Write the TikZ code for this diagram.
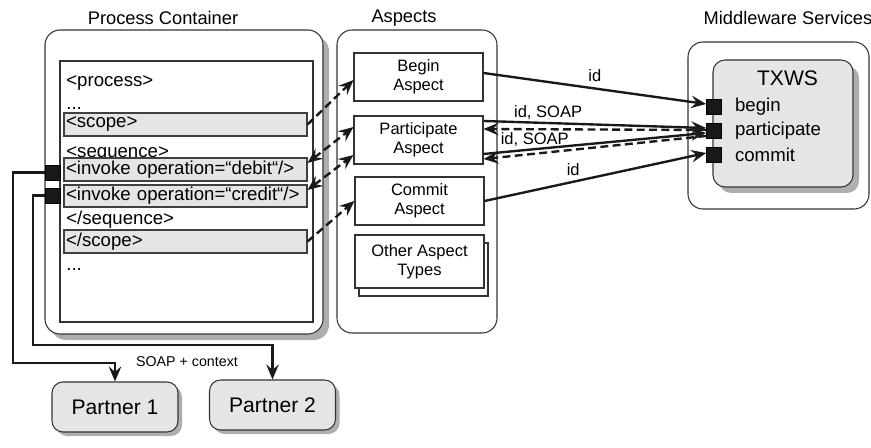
\documentclass[tikz,border=0pt]{standalone}
\usepackage{fontspec}
\setmainfont{Liberation Sans}
\usetikzlibrary{arrows.meta,positioning,shadows}

\begin{document}
\begin{tikzpicture}[
	font=\fontsize{10.6}{12}\selectfont,
	container/.style={draw=black!80, fill=white, rounded corners=0.3cm, line width=0.6pt},
	shadowed/.style={drop shadow={shadow xshift=0.12cm, shadow yshift=-0.12cm, fill=black!45, opacity=0.7}},
	codeline/.style={anchor=west, inner sep=0pt, text height=1.6ex, text depth=0.4ex},
	band/.style={draw=black!75, fill=black!10, line width=0.6pt, minimum width=4.86cm, minimum height=0.46cm, text width=4.78cm, inner xsep=0.04cm, inner ysep=0pt, align=left},
	aspect/.style={draw=black!80, fill=white, line width=0.6pt, minimum width=2.58cm, minimum height=0.96cm, align=center, font=\fontsize{9.4}{11}\selectfont},
	port/.style={draw=black, fill=black!90, minimum size=0.3cm, inner sep=0pt},
	partner/.style={draw=black!80, fill=black!10, rounded corners=0.22cm, line width=0.6pt, minimum width=2.52cm, minimum height=1.0cm, font=\fontsize{12}{14}\selectfont},
	title/.style={font=\fontsize{10.4}{12}\selectfont},
	edgelabel/.style={font=\fontsize{9.4}{11}\selectfont, inner sep=1pt},
	call/.style={-{Stealth[length=3mm, width=2.5mm, inset=1.1mm]}, line width=1.35pt, draw=black!90},
	weave/.style={call, dash pattern=on 4.5pt off 2.5pt},
	weaveboth/.style={weave, arrows={Stealth[length=3mm, width=2.5mm, inset=1.1mm]-Stealth[length=3mm, width=2.5mm, inset=1.1mm]}}
]
\useasboundingbox (0,0) rectangle (17.42,-8.96);

% Titles of the three columns.
\node[title] (tproc) at (3.26,-0.36) {Process Container};
\node[title] (tasp) at (8.08,-0.36) {Aspects};
\node[title] (tmw) at (15.76,-0.36) {Middleware Services};

% Process container with the BPEL listing.
\node[container, shadowed, minimum width=5.56cm, minimum height=6.08cm] (procbox) at (3.68,-3.64) {};
\node[draw=black!80, line width=0.6pt, fill=white, minimum width=5.06cm, minimum height=5.22cm] (codearea) at (3.73,-3.83) {};

\node[codeline] (lprocess) at (1.32,-1.62) {<process>};
\node[codeline] (ldotsa) at (1.32,-2.08) {...};
\node[band] (scopeopen) at (3.71,-2.49) {<scope>};
\node[codeline] (lseq) at (1.32,-3.04) {<sequence>};
\node[band] (debit) at (3.71,-3.39) {<invoke operation=“debit“/>};
\node[band, minimum height=0.44cm] (credit) at (3.71,-3.92) {<invoke operation=“credit“/>};
\node[codeline] (lseqend) at (1.32,-4.38) {</sequence>};
\node[band] (scopeclose) at (3.71,-4.83) {</scope>};
\node[codeline] (ldotsb) at (1.32,-5.3) {...};

\node[port] (pdebit) at (1.06,-3.45) {};
\node[port] (pcredit) at (1.06,-3.91) {};

% Partners reached from the invoke activities.
\node[partner, drop shadow={shadow xshift=0.08cm, shadow yshift=-0.08cm, fill=black!45, opacity=0.7}] (partnerA) at (2.3,-8.14) {Partner 1};
\node[partner, drop shadow={shadow xshift=0.08cm, shadow yshift=-0.08cm, fill=black!45, opacity=0.7}] (partnerB) at (5.45,-8.1) {Partner 2};

\coordinate (bendA) at (0.26,-7.26);
\coordinate (bendB) at (0.66,-6.9);
\draw[call] (pdebit.west) -| (bendA) -| (partnerA.north);
\draw[call] (pcredit.west) -| (bendB) -| (partnerB.north);
\node[font=\fontsize{8.1}{10}\selectfont] (soapctx) at (3.74,-7.24) {SOAP + context};

% Aspects column.
\node[container, minimum width=3.2cm, minimum height=6.06cm] (aspectbox) at (8.34,-3.63) {};
\node[aspect] (beginasp) at (8.37,-1.54) {Begin\\Aspect};
\node[aspect] (partasp) at (8.37,-2.8) {Participate\\Aspect};
\node[aspect] (commitasp) at (8.39,-4.02) {Commit\\Aspect};
\node[aspect, minimum height=1.06cm, copy shadow={shadow xshift=0.08cm, shadow yshift=-0.16cm, draw=black!80, fill=white, line width=0.6pt}] (otherasp) at (8.39,-5.23) {Other Aspect\\Types};

% Middleware services with the TXWS ports.
\node[container, minimum width=3.62cm, minimum height=3.34cm] (mwbox) at (15.57,-2.51) {};
\node[draw=black!80, fill=black!10, rounded corners=0.24cm, line width=0.6pt, shadowed, minimum width=2.8cm, minimum height=2.54cm] (txws) at (15.66,-2.47) {};
\node[font=\fontsize{12}{14}\selectfont] (txwslabel) at (15.75,-1.56) {TXWS};

\node[port] (pbegin) at (14.28,-2.14) {};
\node[port] (ppart) at (14.28,-2.62) {};
\node[port] (pcommit) at (14.28,-3.1) {};
\node[right=0.14cm of pbegin] (lbegin) {begin};
\node[right=0.14cm of ppart] (lpart) {participate};
\node[right=0.14cm of pcommit] (lcommit) {commit};

% Calls between aspects and TXWS.
\draw[call] ([yshift=0.08cm]beginasp.east) -- node[edgelabel, above=2pt] {id} ([yshift=0.06cm]pbegin.west);
\draw[call] ([yshift=0.38cm]partasp.east) -- node[edgelabel, above, pos=0.29] {id, SOAP} ([yshift=0.06cm]ppart.west);
\draw[weave] ([yshift=0.02cm]ppart.west) -- ([yshift=0.22cm]partasp.east);
\draw[call] ([yshift=-0.28cm]partasp.east) -- node[edgelabel, above, pos=0.23] {id, SOAP} ([yshift=-0.04cm]ppart.west);
\draw[weave] ([yshift=-0.1cm]ppart.west) -- ([yshift=-0.38cm]partasp.east);
\draw[call] (commitasp.east) -- node[edgelabel, above=2pt, pos=0.4] {id} ([yshift=0.04cm]pcommit.west);

% Weaving of aspects into the listing.
\draw[weave] (scopeopen.east) -- ([yshift=-0.06cm]beginasp.west);
\draw[weaveboth] ([yshift=0.13cm]debit.east) -- ([yshift=0.26cm]partasp.west);
\draw[weaveboth] ([yshift=0.12cm]credit.east) -- ([yshift=-0.3cm]partasp.west);
\draw[weave] (scopeclose.east) -- (commitasp.west);

\end{tikzpicture}
\end{document}
